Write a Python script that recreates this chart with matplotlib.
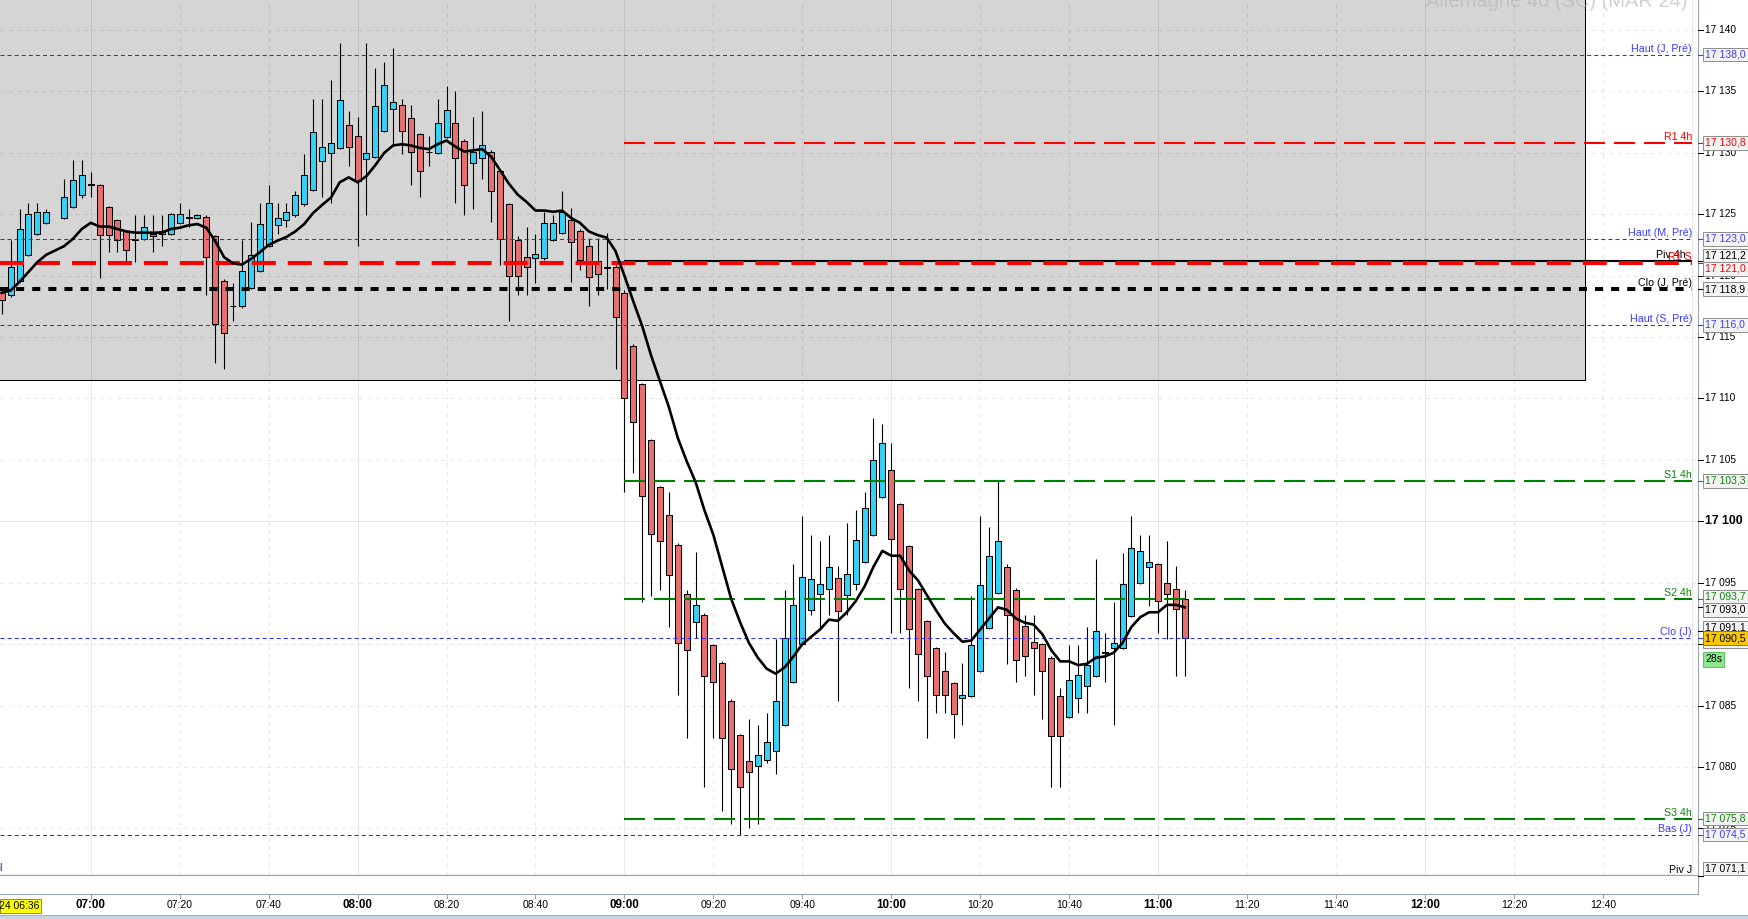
import matplotlib
matplotlib.use("Agg")
import matplotlib.pyplot as plt
from matplotlib.patches import Rectangle
from matplotlib.lines import Line2D
from matplotlib.transforms import IdentityTransform

plt.rcParams['font.family'] = ['Liberation Sans', 'DejaVu Sans']
plt.rcParams['lines.scale_dashes'] = False

# 2-minute candles, DAX future (06:52 bar is missing on the chart)
times = ["06:40", "06:42", "06:44", "06:46", "06:48", "06:50", "06:54", "06:56", "06:58",
         "07:00", "07:02", "07:04", "07:06", "07:08", "07:10", "07:12", "07:14", "07:16", "07:18",
         "07:20", "07:22", "07:24", "07:26", "07:28", "07:30", "07:32", "07:34", "07:36", "07:38",
         "07:40", "07:42", "07:44", "07:46", "07:48", "07:50", "07:52", "07:54", "07:56", "07:58",
         "08:00", "08:02", "08:04", "08:06", "08:08", "08:10", "08:12", "08:14", "08:16", "08:18",
         "08:20", "08:22", "08:24", "08:26", "08:28", "08:30", "08:32", "08:34", "08:36", "08:38",
         "08:40", "08:42", "08:44", "08:46", "08:48", "08:50", "08:52", "08:54", "08:56", "08:58",
         "09:00", "09:02", "09:04", "09:06", "09:08", "09:10", "09:12", "09:14", "09:16", "09:18",
         "09:20", "09:22", "09:24", "09:26", "09:28", "09:30", "09:32", "09:34", "09:36", "09:38",
         "09:40", "09:42", "09:44", "09:46", "09:48", "09:50", "09:52", "09:54", "09:56", "09:58",
         "10:00", "10:02", "10:04", "10:06", "10:08", "10:10", "10:12", "10:14", "10:16", "10:18",
         "10:20", "10:22", "10:24", "10:26", "10:28", "10:30", "10:32", "10:34", "10:36", "10:38",
         "10:40", "10:42", "10:44", "10:46", "10:48", "10:50", "10:52", "10:54", "10:56", "10:58",
         "11:00", "11:02", "11:04", "11:06"]

opens = [17118.7, 17118.4, 17119.6, 17121.7, 17123.4, 17124.3, 17124.7, 17125.6, 17126.6,
         17127.4, 17127.4, 17125.6, 17124.5, 17123.6, 17122.9, 17122.95, 17123.4, 17123.4, 17123.4,
         17124.3, 17124.7, 17124.7, 17124.8, 17123.2, 17119.6, 17117.5, 17117.5, 17119.0, 17120.4,
         17122.4, 17124.1, 17124.5, 17124.9, 17125.8, 17127.0, 17129.3, 17130.0, 17130.4, 17132.3,
         17131.4, 17129.5, 17129.7, 17131.8, 17133.6, 17133.9, 17132.8, 17131.5, 17130.1, 17130.0,
         17131.3, 17132.4, 17131.0, 17129.2, 17129.6, 17130.1, 17128.5, 17125.8, 17122.9, 17121.5,
         17121.4, 17121.4, 17122.9, 17123.5, 17124.5, 17123.6, 17122.4, 17121.2, 17120.7, 17120.7,
         17118.6, 17114.3, 17111.2, 17106.6, 17102.8, 17100.5, 17098.1, 17094.1, 17091.8, 17092.4,
         17089.9, 17088.5, 17085.4, 17082.6, 17080.5, 17080.1, 17080.6, 17081.3, 17083.4, 17086.9,
         17090.0, 17092.8, 17094.1, 17094.5, 17095.4, 17094.0, 17094.9, 17096.7, 17098.9, 17102.0,
         17104.2, 17101.4, 17098.0, 17094.5, 17091.9, 17089.7, 17087.8, 17086.8, 17085.6, 17085.8,
         17087.8, 17091.3, 17094.2, 17096.3, 17094.4, 17091.5, 17090.2, 17090.0, 17088.9, 17085.8,
         17084.1, 17085.6, 17086.6, 17087.4, 17089.3, 17089.7, 17089.7, 17092.3, 17095.0, 17096.3,
         17096.5, 17095.0, 17094.5, 17093.7]

highs = [17118.9, 17122.9, 17125.4, 17125.9, 17125.9, 17125.4, 17127.9, 17129.4, 17129.4,
         17128.4, 17127.5, 17125.7, 17124.6, 17123.7, 17124.9, 17124.9, 17124.9, 17124.9, 17125.1,
         17125.9, 17125.4, 17125.0, 17124.9, 17123.3, 17119.7, 17119.4, 17122.9, 17124.4, 17125.9,
         17127.4, 17125.9, 17125.9, 17126.9, 17129.9, 17134.4, 17134.4, 17135.9, 17138.9, 17133.4,
         17132.9, 17138.9, 17136.9, 17137.4, 17138.5, 17134.4, 17133.9, 17131.6, 17131.4, 17134.4,
         17135.4, 17135.0, 17131.1, 17132.9, 17133.4, 17130.2, 17128.6, 17125.9, 17123.2, 17124.0,
         17123.4, 17125.2, 17124.9, 17126.9, 17125.5, 17123.8, 17123.1, 17123.1, 17123.5, 17120.9,
         17118.8, 17114.4, 17111.3, 17106.7, 17102.9, 17102.4, 17098.2, 17094.4, 17097.5, 17092.5,
         17090.0, 17088.6, 17085.5, 17082.7, 17083.9, 17083.4, 17084.4, 17090.4, 17094.4, 17096.5,
         17100.4, 17098.9, 17098.4, 17098.9, 17096.4, 17099.9, 17100.9, 17102.4, 17108.4, 17107.9,
         17106.4, 17101.5, 17098.1, 17094.6, 17092.0, 17089.8, 17089.4, 17086.9, 17088.5, 17093.9,
         17100.4, 17099.5, 17103.4, 17096.5, 17094.6, 17092.4, 17092.4, 17090.1, 17089.0, 17086.4,
         17089.9, 17089.9, 17091.4, 17096.9, 17090.9, 17093.4, 17097.4, 17100.4, 17098.9, 17098.9,
         17096.6, 17098.4, 17096.4, 17094.4]

lows = [17116.9, 17118.3, 17119.5, 17121.6, 17123.3, 17124.2, 17124.6, 17125.5, 17126.3,
        17126.4, 17119.8, 17121.9, 17121.9, 17121.1, 17121.1, 17122.9, 17121.9, 17122.4, 17123.3,
        17124.2, 17124.0, 17124.6, 17118.4, 17112.9, 17112.4, 17116.3, 17117.4, 17118.9, 17120.3,
        17122.3, 17123.4, 17124.0, 17124.8, 17125.7, 17126.9, 17126.4, 17125.9, 17130.3, 17128.9,
        17122.4, 17124.9, 17129.6, 17131.7, 17130.6, 17129.9, 17127.4, 17126.4, 17128.9, 17129.9,
        17131.2, 17125.9, 17124.9, 17125.4, 17127.9, 17124.4, 17120.9, 17116.3, 17118.4, 17118.4,
        17119.4, 17121.3, 17122.8, 17123.4, 17119.5, 17120.5, 17117.5, 17118.4, 17118.9, 17112.4,
        17102.4, 17103.9, 17093.4, 17093.9, 17094.4, 17091.4, 17085.9, 17082.4, 17090.5, 17078.4,
        17082.4, 17076.4, 17075.4, 17074.5, 17075.0, 17075.4, 17080.3, 17079.4, 17083.3, 17086.8,
        17089.9, 17092.4, 17091.4, 17092.4, 17085.4, 17092.4, 17094.4, 17096.6, 17098.8, 17101.9,
        17090.9, 17090.9, 17086.4, 17085.4, 17082.4, 17084.4, 17084.4, 17082.4, 17083.4, 17085.7,
        17087.7, 17091.2, 17094.1, 17088.4, 17086.9, 17087.4, 17085.9, 17083.9, 17078.4, 17078.4,
        17084.0, 17084.4, 17084.4, 17087.3, 17086.9, 17083.4, 17089.6, 17092.2, 17094.9, 17093.1,
        17090.9, 17090.4, 17087.4, 17087.4]

closes = [17118.0, 17120.7, 17123.8, 17125.0, 17125.2, 17125.2, 17126.4, 17127.8, 17128.2,
          17127.4, 17123.3, 17123.3, 17122.9, 17122.1, 17123.0, 17124.0, 17123.25, 17123.6, 17125.0,
          17125.0, 17124.7, 17124.9, 17121.5, 17116.1, 17115.3, 17117.5, 17120.4, 17121.7, 17124.2,
          17125.9, 17124.7, 17125.2, 17126.6, 17128.2, 17131.7, 17130.5, 17130.8, 17134.3, 17130.5,
          17127.7, 17130.0, 17133.8, 17135.5, 17134.1, 17131.8, 17130.1, 17128.5, 17130.05, 17132.4,
          17133.5, 17129.6, 17127.4, 17130.1, 17130.6, 17126.9, 17123.0, 17120.0, 17120.0, 17120.7,
          17121.8, 17124.3, 17124.3, 17125.2, 17122.7, 17121.3, 17119.9, 17120.1, 17120.6, 17116.6,
          17110.0, 17108.1, 17102.1, 17099.0, 17098.4, 17095.6, 17090.1, 17089.5, 17093.2, 17087.4,
          17086.9, 17082.4, 17079.8, 17078.4, 17079.6, 17081.0, 17082.0, 17085.4, 17090.5, 17093.2,
          17095.5, 17095.3, 17094.9, 17096.3, 17092.7, 17095.7, 17098.5, 17101.1, 17105.0, 17106.4,
          17098.6, 17094.5, 17091.2, 17089.2, 17087.4, 17085.9, 17085.9, 17084.3, 17085.9, 17089.9,
          17094.8, 17097.2, 17098.4, 17092.4, 17088.7, 17089.0, 17089.7, 17087.8, 17082.5, 17082.5,
          17087.1, 17087.5, 17088.3, 17091.1, 17089.4, 17090.1, 17094.9, 17097.8, 17097.6, 17096.7,
          17093.5, 17094.1, 17092.9, 17090.5]

# moving average as drawn on the chart
ma = [17118.6, 17118.8, 17119.5, 17120.3, 17121.1, 17121.7, 17122.4, 17123.0, 17123.8,
      17124.3, 17124.0, 17124.0, 17123.8, 17123.6, 17123.5, 17123.5, 17123.5, 17123.5, 17123.8,
      17123.9, 17124.1, 17124.2, 17123.9, 17122.8, 17121.5, 17121.0, 17120.9, 17121.35, 17121.9,
      17122.5, 17122.85, 17123.15, 17123.6, 17124.2, 17125.1, 17125.75, 17126.35, 17127.6, 17128.0,
      17127.6, 17128.1, 17129.0, 17130.0, 17130.6, 17130.7, 17130.6, 17130.4, 17130.3, 17130.7,
      17131.0, 17130.5, 17130.1, 17130.2, 17130.3, 17129.7, 17128.6, 17127.5, 17126.6, 17126.0,
      17125.3, 17125.3, 17125.2, 17125.3, 17124.7, 17124.3, 17123.6, 17123.3, 17123.1, 17122.0,
      17120.0, 17117.9, 17115.9, 17113.5, 17111.4, 17109.3, 17106.8, 17104.9, 17103.2, 17100.9,
      17098.9, 17096.3, 17093.7, 17091.8, 17090.1, 17088.9, 17088.0, 17087.6, 17088.1, 17089.0,
      17090.0, 17090.6, 17091.2, 17092.0, 17091.9, 17092.6, 17093.5, 17094.7, 17096.3, 17097.6,
      17097.2, 17097.2, 17096.0, 17095.2, 17094.0, 17092.8, 17091.7, 17090.9, 17090.2, 17090.3,
      17091.2, 17092.1, 17093.0, 17092.8, 17092.1, 17091.75, 17091.6, 17090.8, 17089.5, 17088.6,
      17088.6, 17088.3, 17088.4, 17088.9, 17089.0, 17089.3, 17090.1, 17091.4, 17092.2, 17092.6,
      17092.6, 17093.2, 17093.2, 17093.0]

# horizontal levels
level_names = ["Haut (J, Pré)", "R1 4h", "Haut (M, Pré)", "Piv 4h", "R1 S", "Clo (J, Pré)",
               "Haut (S, Pré)", "S1 4h", "S2 4h", "Clo (J)", "S3 4h", "Bas (J)", "Piv J"]
level_values = [17138.0, 17130.8, 17123.0, 17121.2, 17121.0, 17118.9,
                17116.0, 17103.3, 17093.7, 17090.5, 17075.8, 17074.5, 17071.1]
level_kinds = ["blue_dot", "red_dash", "blue_dot", "black_solid", "red_thick", "black_dot",
               "blue_dot", "green_dash", "green_dash", "blue_dot", "green_dash", "blue_dot", "black_solid"]
level_start = [None, "09:00", None, "09:00", None, None,
               None, "09:00", "09:00", None, "09:00", None, None]
extra_value = 17091.1
timer_text = "28s"
title = "Allemagne 40 (SC) (MAR 24)"
box_start, box_end, box_low = "06:00", "12:36", 17111.5

price_ticks = [17075, 17080, 17085, 17090, 17095, 17100, 17105, 17110,
               17115, 17120, 17125, 17130, 17135, 17140]
time_ticks = ["07:00", "07:20", "07:40", "08:00", "08:20", "08:40", "09:00", "09:20",
              "09:40", "10:00", "10:20", "10:40", "11:00", "11:20", "11:40", "12:00",
              "12:20", "12:40", "13:00"]


def minutes(s):
    h, m = s.split(":")
    return int(h) * 60 + int(m)


def fmt(v):
    s = "%.1f" % v
    ip, dp = s.split(".")
    return "%s %s,%s" % (ip[:-3], ip[-3:], dp)


styles = {
    "blue_dot": dict(color="#2a2aff", lw=0.75, dashes=(2.9, 2.2)),
    "red_dash": dict(color="#ff0000", lw=1.5, dashes=(15.1, 6.5)),
    "green_dash": dict(color="#008000", lw=1.5, dashes=(15.1, 6.5)),
    "red_thick": dict(color="#ff0000", lw=2.9, dashes=(17.3, 8.6)),
    "black_dot": dict(color="black", lw=2.9, dashes=(5.8, 5.8)),
    "black_solid": dict(color="black", lw=1.5),
}
text_colors = {"blue_dot": "#3b3bff", "red_dash": "#ff0000", "green_dash": "#0a870a",
               "red_thick": "#ff0000", "black_dot": "black", "black_solid": "black"}

W, H = 1749, 919
PX = IdentityTransform()
fig = plt.figure(figsize=(W / 100, H / 100), dpi=100)
fig.patch.set_facecolor("white")

ax_right, ax_bottom = 1698, 875
ax = fig.add_axes([0, (H - ax_bottom) / H, ax_right / W, ax_bottom / H])
ax.set_xlim(399.6, 781.4)
ax.set_ylim(17071.21, 17142.44)
ax.axis("off")

x = [minutes(t) for t in times]

# previous-session box
bx0 = minutes(box_start)
ax.add_patch(Rectangle((bx0, box_low), minutes(box_end) - bx0, 100,
                       facecolor="#d5d5d5", edgecolor="black", lw=0.75, zorder=0))

# grid
for t in time_ticks:
    m = minutes(t)
    if t.endswith(":00"):
        ax.axvline(m, color="black", alpha=0.09, lw=0.75, zorder=1)
    else:
        ax.axvline(m, color="black", alpha=0.09, lw=0.75, dashes=(3, 3), zorder=1)
for p in price_ticks:
    if p % 100 == 0:
        ax.axhline(p, color="black", alpha=0.09, lw=0.75, zorder=1)
    else:
        ax.axhline(p, color="black", alpha=0.09, lw=0.75, dashes=(3, 3), zorder=1)

# candles
ax.vlines(x, lows, highs, color="black", lw=0.8, zorder=2)
up_col, dn_col = "#33d2f6", "#e86f6f"
for xi, o, c in zip(x, opens, closes):
    col = up_col if c > o else dn_col
    ax.bar(xi, max(abs(c - o), 0.04), width=1.35, bottom=min(o, c), color=col,
           edgecolor="black", linewidth=0.75, zorder=3)

# levels
x_end = minutes("13:00")
for name, v, kind, st in zip(level_names, level_values, level_kinds, level_start):
    x0 = ax.get_xlim()[0] if st is None else minutes(st)
    s = styles[kind]
    line, = ax.plot([x0, x_end], [v, v], color=s["color"], lw=s["lw"], zorder=4,
                    solid_capstyle="butt", dash_capstyle="butt")
    if "dashes" in s:
        line.set_dashes(s["dashes"])

# moving average
ax.plot(x, ma, color="black", lw=1.9, zorder=5, solid_joinstyle="round")


def y_of(p):
    return ax.transData.transform((400, p))[1]


def x_of(m):
    return ax.transData.transform((m, 17100))[0]


# level labels inside the plot
label_dx = {"Piv 4h": -6}
for name, v, kind in zip(level_names, level_values, level_kinds):
    yb = max(y_of(v) + 3, H - 873)
    fig.text(1692 + label_dx.get(name, 0), yb, name, transform=PX, ha="right", va="baseline",
             fontsize=7.7, color=text_colors[kind], zorder=4)

# clipped label at the bottom-left edge
fig.text(3, H - 868, "el", transform=PX, ha="right", va="center", fontsize=7.7,
         color="#2a2aa0", zorder=4)

# title (mostly above the top edge)
fig.text(1688, H - 7, title, transform=PX, ha="right", va="baseline", fontsize=14.5,
         color="#b4b4b4", alpha=0.6, zorder=3)

# frame lines
frame = "#98a4b0"
fig.add_artist(Line2D([ax_right, ax_right], [H, H - 894], transform=PX, color=frame, lw=0.8))
fig.add_artist(Line2D([0, ax_right], [H - ax_bottom, H - ax_bottom], transform=PX, color=frame, lw=0.8))
fig.add_artist(Line2D([0, ax_right], [H - 894, H - 894], transform=PX, color=frame, lw=0.8))
fig.add_artist(Rectangle((0, 0), W, 4, transform=PX, facecolor="#c8d5e2", edgecolor="none"))
fig.add_artist(Line2D([0, W], [4, 4], transform=PX, color="#a8b4c0", lw=0.8))

# price axis
for p in price_ticks:
    yp = y_of(p)
    fig.add_artist(Line2D([ax_right, ax_right + 5], [yp, yp], transform=PX, color="black", lw=0.7))
    lab = "%d %03d" % (p // 1000, p % 1000)
    if p % 100 == 0:
        fig.text(1705, yp, lab, transform=PX, va="center", fontsize=8.8, fontweight="bold", zorder=3)
    else:
        fig.text(1705, yp, lab, transform=PX, va="center", fontsize=7.3, zorder=3)

# time axis
for t in time_ticks[:-1]:
    xp = x_of(minutes(t))
    fig.add_artist(Line2D([xp, xp], [H - 894, H - 898], transform=PX, color=frame, lw=0.8))
    if t.endswith(":00"):
        fig.text(xp, H - 905.5, t, transform=PX, ha="center", va="center", fontsize=8.4,
                 fontweight="bold")
    else:
        fig.text(xp, H - 905.5, t, transform=PX, ha="center", va="center", fontsize=7.5)
fig.add_artist(Rectangle((0, H - 913), 41, 14, transform=PX, facecolor="#ffff00",
                         edgecolor="#808000", lw=0.6, zorder=4))
fig.text(39, H - 906, "24 06:36", transform=PX, ha="right", va="center", fontsize=7.5, zorder=5)

# value boxes on the price axis
items = []
for v, kind in zip(level_values, level_kinds):
    items.append([v, text_colors[kind]])
items.append([ma[-1], "black"])
items.append([extra_value, "black"])
bh = 13.5
rows = []
for v, c in items:
    yt = min(H - y_of(v), ax_bottom - bh / 2)
    rows.append([yt, v, c])
rows.sort()
for _ in range(200):
    moved = False
    for i in range(len(rows) - 1):
        gap = rows[i + 1][0] - rows[i][0]
        if gap < bh - 0.01:
            d = (bh - gap) / 2
            rows[i][0] -= d
            rows[i + 1][0] += d
            moved = True
    if not moved:
        break
for yt, v, c in rows:
    yv = y_of(v)
    fig.add_artist(Line2D([ax_right, 1703], [yv, yv], transform=PX, color=c, lw=0.8, zorder=5))
    fig.add_artist(Rectangle((1703, H - yt - bh / 2), 45, bh, transform=PX, facecolor="#f3f3f3",
                             edgecolor="#8c8c8c", lw=0.7, zorder=5))
    fig.text(1705, H - yt, fmt(v), transform=PX, va="center", fontsize=7.5, color=c, zorder=6)

# last price
last = closes[-1]
yl = y_of(last)
fig.add_artist(Rectangle((1703, yl - bh / 2), 45, bh, transform=PX, facecolor="#f9c800",
                         edgecolor="#9a7a00", lw=0.7, zorder=7))
fig.text(1705, yl, fmt(last), transform=PX, va="center", fontsize=7.5, color="black", zorder=8)
fig.add_artist(Rectangle((1703, yl - bh / 2 - 22), 21, 15, transform=PX, facecolor="#8fe68f",
                         edgecolor="#5fbf5f", lw=0.7, zorder=7))
fig.text(1705, yl - bh / 2 - 14.5, timer_text, transform=PX, va="center", fontsize=7.5, zorder=8)

fig.savefig("out.png", dpi=100)
